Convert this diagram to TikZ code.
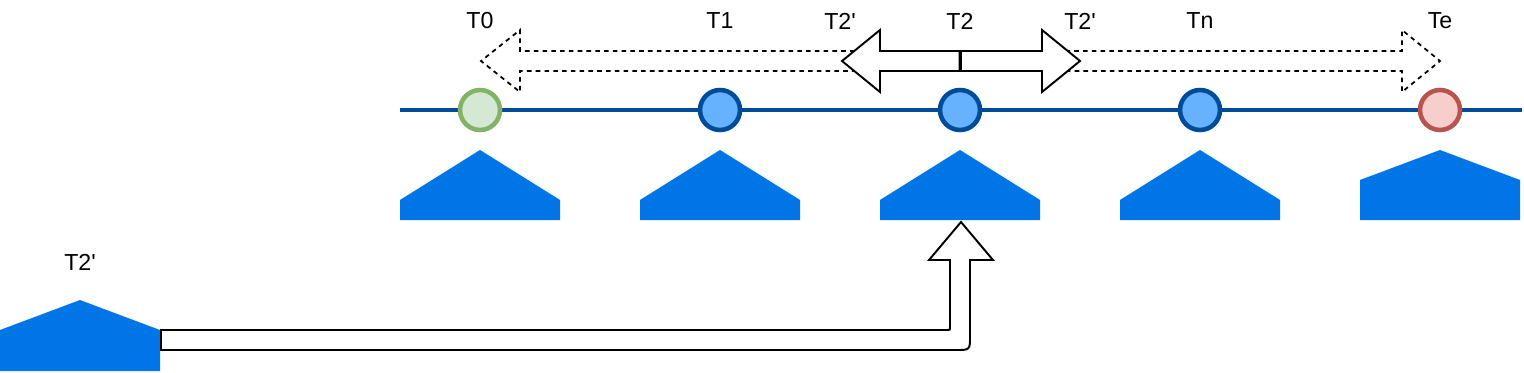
\documentclass[tikz,border=0pt]{standalone}
\usepackage{fontspec}
\setmainfont{Liberation Sans}

\definecolor{lineblue}{HTML}{004C99}
\definecolor{dotblue}{HTML}{66B2FF}
\definecolor{dotgreen}{HTML}{D5E8D4}
\definecolor{rimgreen}{HTML}{82B366}
\definecolor{dotred}{HTML}{F8CECC}
\definecolor{rimred}{HTML}{B85450}
\definecolor{housefill}{HTML}{0075E5}

\tikzset{
  timedot/.style={circle, draw=lineblue, fill=dotblue, line width=2.6pt, minimum size=0.8cm, inner sep=0pt},
  timetext/.style={font=\fontsize{13.2}{15}\selectfont, inner sep=0pt},
  outline/.style={draw=black, line width=1.1pt, line join=miter},
  dashoutline/.style={draw=black, line width=1pt, dash pattern=on 2.6pt off 2.4pt}
}

\begin{document}
\begin{tikzpicture}[x=0.02cm, y=-0.02cm]
        \useasboundingbox (0,0) rectangle (1524,372);

        % Time line
        \coordinate (lstart) at (400,110);
        \coordinate (lend) at (1522,110);
        \draw[lineblue, line width=1.9pt] (lstart) -- (lend);

        % Points on the line
        \node[timedot, draw=rimgreen, fill=dotgreen] (c0) at (480,110) {};
        \node[timedot] (c1) at (720,110) {};
        \node[timedot] (c2) at (960,110) {};
        \node[timedot] (c3) at (1200,110) {};
        \node[timedot, draw=rimred, fill=dotred] (c4) at (1440,110) {};

        % Labels
        \node[timetext] (t0) at (480,21) {T0};
        \node[timetext] (t1) at (720,21) {T1};
        \node[timetext] (t2a) at (840,21) {T2\textquotesingle};
        \node[timetext] (t2) at (960,21) {T2};
        \node[timetext] (t2b) at (1080,21) {T2\textquotesingle};
        \node[timetext] (tn) at (1200,21) {Tn};
        \node[timetext] (te) at (1440,21) {Te};
        \node[timetext] (t2c) at (80,262) {T2\textquotesingle};

        % Dashed range arrows
        \draw[dashoutline] (960,51) -- (520,51) -- (520,30) -- (481,61) -- (520,92) -- (520,71) -- (960,71);
        \draw[dashoutline] (960,51) -- (1402,51) -- (1402,30) -- (1440,61) -- (1402,92) -- (1402,71) -- (960,71);

        % Solid arrows
        \draw[outline, fill=white] (959.5,51) -- (880,51) -- (880,30) -- (842,61) -- (880,92) -- (880,71) -- (959.5,71) -- cycle;
        \draw[outline, fill=white] (961,51) -- (1042,51) -- (1042,30) -- (1080,61) -- (1042,92) -- (1042,71) -- (961,71) -- cycle;

        % Blocks
        \foreach \x in {480,720,960,1200}
            \fill[housefill] (\x-80,220) -- (\x-80,200) -- (\x,150) -- (\x+80,200) -- (\x+80,220) -- cycle;
        \fill[housefill] (1360,220) -- (1360,180) -- (1440,150) -- (1520,180) -- (1520,220) -- cycle;
        \fill[housefill] (0,371) -- (0,330) -- (80,300) -- (160,330) -- (160,371) -- cycle;

        % Insert arrow
        \draw[outline, fill=white] (161,330) -- (948,330) .. controls (950,330) .. (950,327) -- (950,260) -- (929,260) -- (961,222) -- (993,260) -- (970,260) -- (970,336) .. controls (970,350) .. (956,350) -- (161,350) -- cycle;

    \end{tikzpicture}
\end{document}
